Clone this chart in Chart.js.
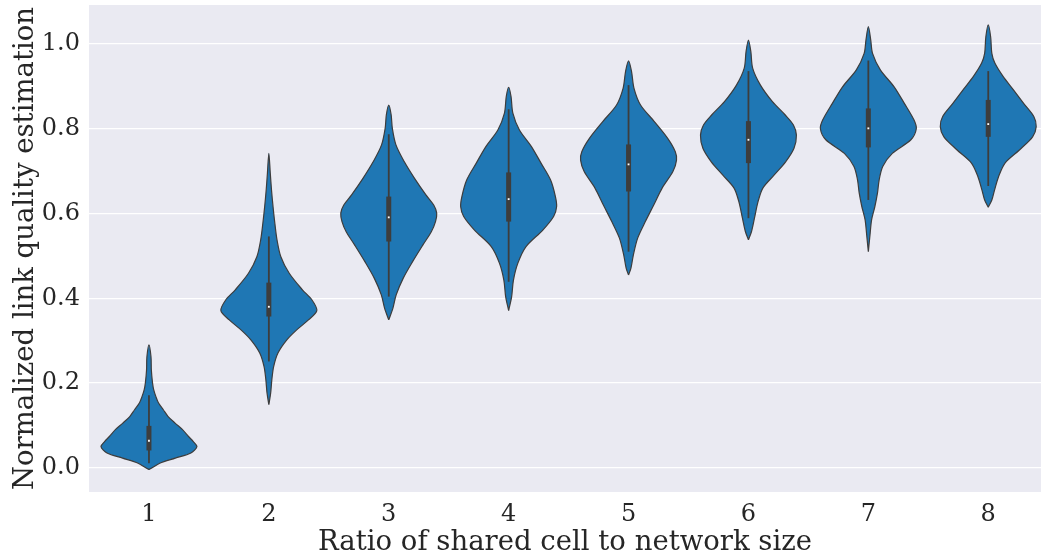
<!DOCTYPE html>
<html>
<head>
<meta charset="utf-8">
<script src="https://cdn.jsdelivr.net/npm/chart.js@4.4.1/dist/chart.umd.min.js"></script>
<style>
  html, body { margin: 0; padding: 0; background: #ffffff; }
  canvas { display: block; }
</style>
</head>
<body>
<canvas id="chart" width="1041" height="556"></canvas>
<script>
// categories on the x axis
const categories = [1, 2, 3, 4, 5, 6, 7, 8];
const yTicks = [0.0, 0.2, 0.4, 0.6, 0.8, 1.0];

// violin outlines: [value, half width in category units], bottom tip to top tip
const shape1 = [[-0.004, 0], [-0.001, 0.02], [0.011, 0.09], [0.023, 0.22], [0.035, 0.35], [0.050, 0.40], [0.062, 0.37], [0.074, 0.33], [0.090, 0.28], [0.105, 0.22], [0.121, 0.16], [0.137, 0.12], [0.153, 0.08], [0.168, 0.058], [0.184, 0.04], [0.200, 0.03], [0.231, 0.02], [0.262, 0.017], [0.290, 0]];
const shape2 = [[0.149, 0], [0.176, 0.015], [0.208, 0.025], [0.239, 0.04], [0.271, 0.076], [0.302, 0.15], [0.325, 0.23], [0.349, 0.33], [0.371, 0.40], [0.396, 0.36], [0.420, 0.28], [0.459, 0.17], [0.498, 0.10], [0.538, 0.068], [0.577, 0.05], [0.616, 0.035], [0.656, 0.022], [0.695, 0.012], [0.742, 0]];
const shape3 = [[0.349, 0], [0.377, 0.035], [0.408, 0.062], [0.447, 0.12], [0.487, 0.20], [0.526, 0.285], [0.557, 0.355], [0.581, 0.39], [0.601, 0.40], [0.620, 0.375], [0.644, 0.31], [0.683, 0.215], [0.722, 0.13], [0.762, 0.06], [0.801, 0.03], [0.833, 0.02], [0.856, 0]];
const shape4 = [[0.371, 0], [0.404, 0.025], [0.443, 0.04], [0.483, 0.077], [0.522, 0.145], [0.561, 0.285], [0.593, 0.375], [0.616, 0.40], [0.640, 0.39], [0.679, 0.35], [0.719, 0.27], [0.758, 0.19], [0.797, 0.09], [0.837, 0.035], [0.876, 0.02], [0.898, 0]];
const shape5 = [[0.455, 0], [0.471, 0.02], [0.502, 0.04], [0.542, 0.076], [0.581, 0.14], [0.620, 0.21], [0.660, 0.28], [0.699, 0.37], [0.726, 0.40], [0.746, 0.39], [0.778, 0.325], [0.817, 0.215], [0.856, 0.10], [0.896, 0.045], [0.935, 0.025], [0.960, 0]];
const shape6 = [[0.538, 0], [0.557, 0.025], [0.589, 0.05], [0.628, 0.08], [0.660, 0.12], [0.691, 0.215], [0.722, 0.31], [0.754, 0.38], [0.785, 0.40], [0.809, 0.375], [0.833, 0.305], [0.864, 0.20], [0.903, 0.10], [0.943, 0.035], [0.982, 0.02], [1.009, 0]];
const shape7 = [[0.510, 0], [0.553, 0.015], [0.585, 0.027], [0.616, 0.054], [0.648, 0.076], [0.679, 0.09], [0.711, 0.12], [0.742, 0.20], [0.774, 0.355], [0.800, 0.40], [0.821, 0.38], [0.860, 0.30], [0.899, 0.215], [0.939, 0.10], [0.978, 0.035], [1.009, 0.02], [1.041, 0]];
const shape8 = [[0.615, 0], [0.632, 0.03], [0.656, 0.053], [0.687, 0.086], [0.719, 0.14], [0.750, 0.26], [0.781, 0.37], [0.805, 0.40], [0.829, 0.38], [0.860, 0.295], [0.892, 0.21], [0.923, 0.125], [0.955, 0.055], [0.978, 0.03], [1.017, 0.02], [1.045, 0]];
const shapes = [shape1, shape2, shape3, shape4, shape5, shape6, shape7, shape8];

// inner box stats
const whiskerLow  = [0.011, 0.251, 0.404, 0.439, 0.510, 0.589, 0.632, 0.665];
const whiskerHigh = [0.171, 0.546, 0.787, 0.846, 0.903, 0.936, 0.961, 0.936];
const q1     = [0.041, 0.357, 0.534, 0.581, 0.652, 0.719, 0.756, 0.781];
const q3     = [0.099, 0.437, 0.640, 0.697, 0.763, 0.818, 0.848, 0.868];
const median = [0.064, 0.380, 0.591, 0.634, 0.716, 0.774, 0.801, 0.811];

const FILL = '#1f77b4';
const EDGE = '#3d3d3d';
const FONT = 'DejaVu Serif';

const datasets = [];
categories.forEach((c, i) => {
    const s = shapes[i];
    const right = s.map(p => ({ x: c + p[1], y: p[0] }));
    const left = s.slice().reverse().map(p => ({ x: c - p[1], y: p[0] }));
    datasets.push({
        type: 'line',
        data: right.concat(left.slice(1)),
        borderColor: EDGE,
        borderWidth: 1.2,
        backgroundColor: FILL,
        fill: 'shape',
        tension: 0.3,
        pointRadius: 0,
        order: 3
    });
    datasets.push({
        type: 'line',
        data: [{ x: c, y: whiskerLow[i] }, { x: c, y: whiskerHigh[i] }],
        borderColor: EDGE,
        borderWidth: 1.8,
        pointRadius: 0,
        fill: false,
        order: 2
    });
    datasets.push({
        type: 'line',
        data: [{ x: c, y: q1[i] }, { x: c, y: q3[i] }],
        borderColor: EDGE,
        borderWidth: 5,
        borderCapStyle: 'butt',
        pointRadius: 0,
        fill: false,
        order: 1
    });
    datasets.push({
        type: 'scatter',
        data: [{ x: c, y: median[i] }],
        pointStyle: 'rect',
        pointRadius: 1.3,
        pointHoverRadius: 1.3,
        pointBackgroundColor: '#ffffff',
        pointBorderWidth: 0,
        order: 0
    });
});

const plotBackground = {
    id: 'plotBackground',
    beforeDraw(chart) {
        const a = chart.chartArea;
        const ctx = chart.ctx;
        ctx.save();
        ctx.fillStyle = '#eaeaf2';
        ctx.fillRect(a.left, a.top, a.right - a.left, a.bottom - a.top);
        ctx.restore();
    }
};

new Chart(document.getElementById('chart').getContext('2d'), {
    type: 'line',
    data: { datasets: datasets },
    plugins: [plotBackground],
    options: {
        responsive: false,
        animation: false,
        layout: { autoPadding: false, padding: { top: 5, right: 0, left: 0, bottom: 0 } },
        plugins: { legend: { display: false }, tooltip: { enabled: false } },
        scales: {
            x: {
                type: 'linear',
                min: 0.5,
                max: 8.44,
                grid: { display: false },
                border: { display: false },
                afterBuildTicks: scale => { scale.ticks = categories.map(v => ({ value: v })); },
                afterFit: scale => {
                    scale.height = 64;
                    scale.paddingLeft = 0;
                    scale.paddingRight = 0;
                },
                ticks: {
                    padding: 0,
                    color: '#262626',
                    font: { family: FONT, size: 24 },
                    callback: v => String(v)
                },
                title: {
                    display: true,
                    text: 'Ratio of shared cell to network size',
                    color: '#262626',
                    font: { family: FONT, size: 27.5 },
                    padding: { top: 0, bottom: -3 }
                }
            },
            y: {
                min: -0.057,
                max: 1.092,
                grid: { color: '#ffffff', lineWidth: 1.2, drawTicks: false },
                border: { display: false },
                afterBuildTicks: scale => { scale.ticks = yTicks.map(v => ({ value: v })); },
                afterFit: scale => {
                    scale.width = 89;
                    scale.paddingTop = 0;
                    scale.paddingBottom = 0;
                },
                ticks: {
                    padding: 9,
                    color: '#262626',
                    font: { family: FONT, size: 24 },
                    callback: v => v.toFixed(1)
                },
                title: {
                    display: true,
                    text: 'Normalized link quality estimation',
                    color: '#262626',
                    font: { family: FONT, size: 27.5 },
                    padding: { top: 9 }
                }
            }
        }
    }
});
</script>
</body>
</html>
